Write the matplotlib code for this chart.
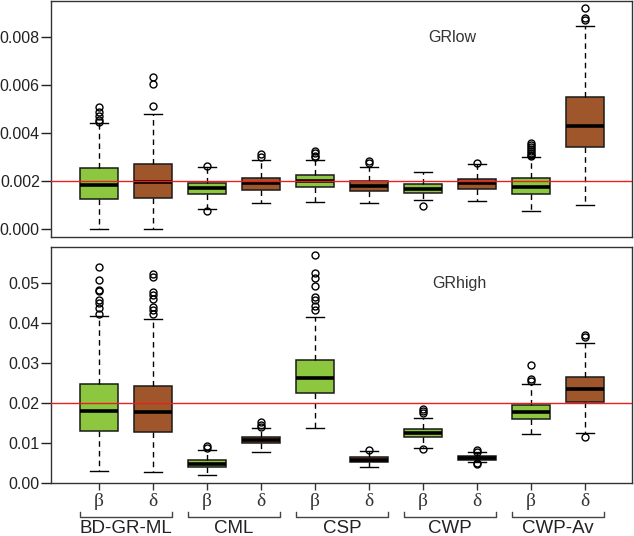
import matplotlib
matplotlib.use("Agg")
import matplotlib.pyplot as plt

# box positions and labels
positions = [1, 2, 3, 4, 5, 6, 7, 8, 9, 10]
tick_labels = ['β', 'δ'] * 5
groups = ['BD-GR-ML', 'CML', 'CSP', 'CWP', 'CWP-Av']
green = '#8DC63F'
brown = '#A0562B'
box_colors = [green, brown] * 5

# GRlow panel
low_q1 = [0.00124, 0.00131, 0.00144, 0.00164, 0.00173, 0.00158, 0.00148, 0.00165, 0.00147, 0.00343]
low_med = [0.00183, 0.00197, 0.00169, 0.00192, 0.00200, 0.00180, 0.00166, 0.00190, 0.00176, 0.00431]
low_q3 = [0.00253, 0.00271, 0.00192, 0.00214, 0.00225, 0.00201, 0.00186, 0.00210, 0.00211, 0.00551]
low_lo = [0.0, 0.0, 0.00084, 0.00109, 0.00113, 0.00109, 0.00120, 0.00116, 0.00076, 0.00098]
low_hi = [0.00442, 0.00481, 0.00260, 0.00287, 0.00288, 0.00257, 0.00236, 0.00271, 0.00301, 0.00848]
low_out = [
    [0.00509, 0.00488, 0.00470, 0.00453, 0.00446],
    [0.00634, 0.00603, 0.00512],
    [0.00264, 0.00076],
    [0.00312, 0.00302],
    [0.00325, 0.00315, 0.00305, 0.00298],
    [0.00285, 0.00274],
    [0.00095],
    [0.00274],
    [0.00358, 0.00350, 0.00342, 0.00334, 0.00326, 0.00318, 0.00310, 0.00304],
    [0.00920, 0.00880, 0.00871],
]

# GRhigh panel
high_q1 = [0.0131, 0.0128, 0.0039, 0.0099, 0.0226, 0.0053, 0.0114, 0.0058, 0.0159, 0.0204]
high_med = [0.0181, 0.0179, 0.0048, 0.0108, 0.0263, 0.0058, 0.0126, 0.0063, 0.0177, 0.0235]
high_q3 = [0.0247, 0.0244, 0.0058, 0.0116, 0.0307, 0.0065, 0.0136, 0.0068, 0.0196, 0.0265]
high_lo = [0.0029, 0.0027, 0.0021, 0.0078, 0.0138, 0.0039, 0.0088, 0.0053, 0.0123, 0.0125]
high_hi = [0.0417, 0.0410, 0.0082, 0.0137, 0.0416, 0.0081, 0.0162, 0.0077, 0.0249, 0.0350]
high_out = [
    [0.0540, 0.0508, 0.0484, 0.0480, 0.0457, 0.0451, 0.0437, 0.0424],
    [0.0523, 0.0516, 0.0478, 0.0472, 0.0461, 0.0440, 0.0432, 0.0424],
    [0.0092, 0.0088],
    [0.0152, 0.0146, 0.0140],
    [0.0570, 0.0526, 0.0513, 0.0494, 0.0466, 0.0459, 0.0442, 0.0434],
    [0.0082],
    [0.0186, 0.0180, 0.0175, 0.0085],
    [0.0082, 0.0077, 0.0050, 0.0048],
    [0.0296, 0.0260, 0.0255],
    [0.0370, 0.0365, 0.0115],
]


def draw_panel(ax, q1, med, q3, lo, hi, out):
    stats = []
    for i in range(len(positions)):
        stats.append({'q1': q1[i], 'med': med[i], 'q3': q3[i],
                      'whislo': lo[i], 'whishi': hi[i], 'fliers': out[i]})
    bp = ax.bxp(stats, positions=positions, widths=0.7, patch_artist=True,
                showfliers=True,
                boxprops=dict(edgecolor='#1a1a1a', linewidth=1.1),
                medianprops=dict(color='black', linewidth=2.6),
                whiskerprops=dict(color='black', linewidth=1, linestyle=(0, (4, 3))),
                capprops=dict(color='black', linewidth=1),
                flierprops=dict(marker='o', markerfacecolor='none',
                                markeredgecolor='black', markersize=5,
                                markeredgewidth=1))
    for patch, c in zip(bp['boxes'], box_colors):
        patch.set_facecolor(c)
    ax.set_xlim(0.11, 10.87)
    for s in ax.spines.values():
        s.set_linewidth(1)
        s.set_color('#333333')
    ax.tick_params(axis='y', labelsize=11.5, length=7, width=1, pad=1, colors='#222222')


fig = plt.figure(figsize=(6.34, 5.36), dpi=100)
plt.rcParams['font.family'] = ['Liberation Sans', 'DejaVu Sans']

ax1 = fig.add_axes([0.0804, 0.558, 0.9164, 0.440])
draw_panel(ax1, low_q1, low_med, low_q3, low_lo, low_hi, low_out)
ax1.axhline(0.002, color='#e8201f', linewidth=1, zorder=5)
ax1.set_ylim(-0.00033, 0.0095)
ax1.set_yticks([0.0, 0.002, 0.004, 0.006, 0.008])
ax1.set_yticklabels(['0.000', '0.002', '0.004', '0.006', '0.008'])
ax1.set_xticks([])
ax1.text(7.55, 0.0080, 'GRlow', fontsize=11.5, color='#333333', ha='center', va='center')

ax2 = fig.add_axes([0.0804, 0.0989, 0.9164, 0.4403])
draw_panel(ax2, high_q1, high_med, high_q3, high_lo, high_hi, high_out)
ax2.axhline(0.02, color='#e8201f', linewidth=1, zorder=5)
ax2.set_ylim(0.0, 0.0591)
ax2.set_yticks([0.0, 0.01, 0.02, 0.03, 0.04, 0.05])
ax2.set_yticklabels(['0.00', '0.01', '0.02', '0.03', '0.04', '0.05'])
ax2.set_xticks(positions)
ax2.set_xticklabels(tick_labels, family=['Liberation Serif', 'DejaVu Serif'], fontsize=14)
ax2.tick_params(axis='x', length=5, width=1, pad=2, colors='#333333')
ax2.text(7.67, 0.050, 'GRhigh', fontsize=11.5, color='#333333', ha='center', va='center')

# group brackets under the axis
trans = ax2.get_xaxis_transform()
for g, name in enumerate(groups):
    x0 = positions[2 * g] - 0.35
    x1 = positions[2 * g + 1] + 0.35
    ax2.plot([x0, x0, x1, x1], [-0.123, -0.144, -0.144, -0.123], color='#444444',
             linewidth=1, transform=trans, clip_on=False)
    ax2.text((x0 + x1) / 2, -0.157, name, fontsize=13.5, color='#222222',
             ha='center', va='top', transform=trans)

fig.savefig('out.png', dpi=100)
